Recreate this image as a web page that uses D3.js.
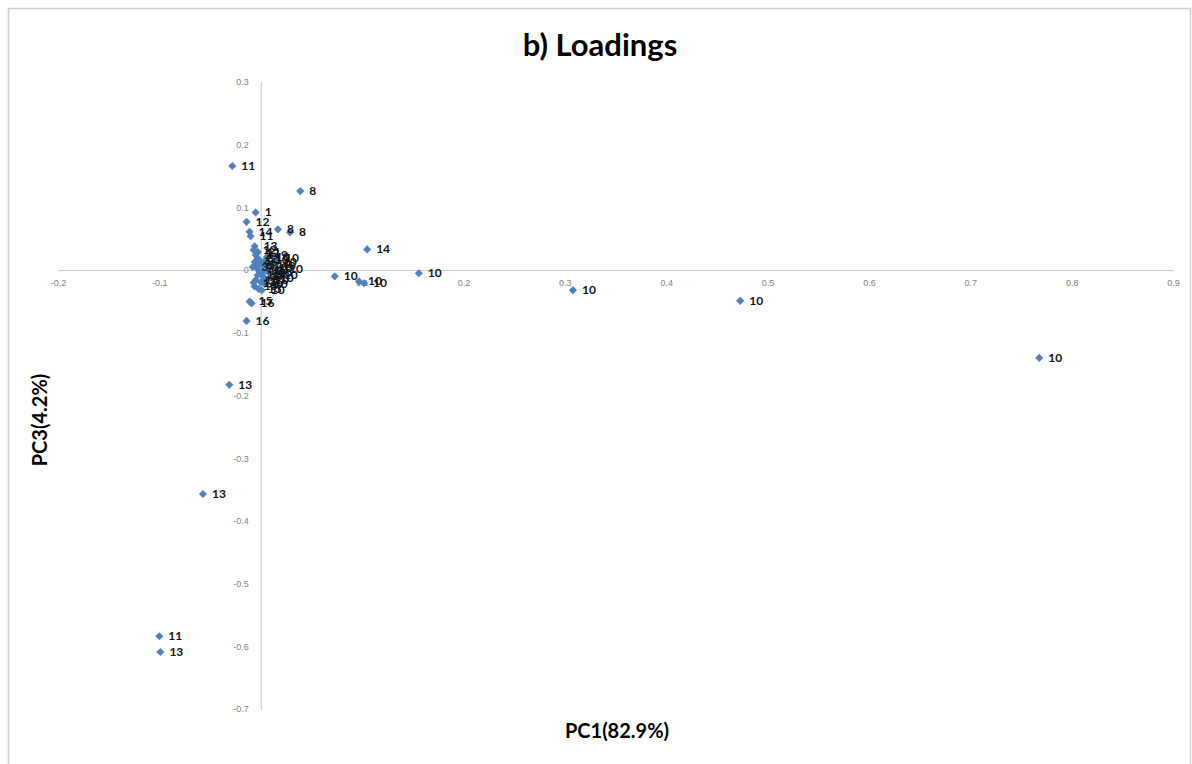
<!DOCTYPE html>
<html>
<head>
<meta charset="utf-8">
<script src="https://cdn.jsdelivr.net/npm/d3@7"></script>
<style>
  body { margin: 0; background: #fff; }
  svg { display: block; font-family: Lato, "Open Sans", sans-serif; }
</style>
</head>
<body>
<svg width="1192" height="764"></svg>
<script>
// loadings: PC1 (x), PC3 (y) and the variable number shown beside each point
var pc1 = [-0.028, 0.039, -0.005, -0.014, -0.011, -0.010, 0.017, 0.029, 0.105,
  0.073, 0.097, 0.102, 0.156, 0.308, 0.473, 0.768, -0.014, -0.009, -0.011,
  -0.031, -0.057, -0.100, -0.099,
  -0.006, -0.007, -0.005, -0.003, -0.006, -0.002, 0.001, 0.003, -0.004, -0.001,
  0.005, 0.007, 0.009, 0.004, -0.003, 0.002, -0.005, 0.000, -0.006, 0.004,
  -0.002, 0.001, 0.011, 0.013, 0.015, -0.003, 0.008, 0.012, 0.019,
  -0.008, -0.004, 0.006, 0.010, 0.002, -0.007, 0.005, 0.014];
var pc3 = [0.166, 0.126, 0.092, 0.077, 0.061, 0.054, 0.065, 0.060, 0.033,
  -0.010, -0.018, -0.021, -0.005, -0.032, -0.049, -0.140, -0.081, -0.053, -0.050,
  -0.183, -0.357, -0.584, -0.609,
  0.038, 0.032, 0.024, 0.019, 0.013, 0.008, 0.013, 0.006, 0.003, -0.002,
  0.016, 0.010, 0.003, 0.000, -0.008, -0.010, -0.016, -0.019, -0.026, -0.022,
  -0.030, -0.032, 0.024, 0.013, 0.019, 0.029, -0.004, 0.006, 0.002,
  0.005, 0.027, 0.021, -0.012, -0.005, -0.020, -0.015, -0.008];
var labels = ["11", "8", "1", "12", "14", "11", "8", "8", "14",
  "10", "10", "10", "10", "10", "10", "10", "16", "16", "15",
  "13", "13", "11", "13",
  "13", "12", "2", "3", "4", "5", "6", "7", "9", "10",
  "10", "10", "10", "10", "12", "14", "15", "16", "13", "10",
  "13", "10", "9", "10", "10", "11", "10", "10", "10",
  "3", "12", "10", "10", "10", "14", "10", "10"];

var xTicks = [-0.2, -0.1, 0, 0.1, 0.2, 0.3, 0.4, 0.5, 0.6, 0.7, 0.8, 0.9];
var yTicks = [0.3, 0.2, 0.1, 0, -0.1, -0.2, -0.3, -0.4, -0.5, -0.6, -0.7];

var svg = d3.select("svg");

var x = d3.scaleLinear().domain([-0.2, 0.9]).range([58, 1173]);
var y = d3.scaleLinear().domain([-0.7, 0.3]).range([709, 82]);

var fmt = function(d) { return String(Math.round(d * 10) / 10); };

// outer frame
svg.append("path")
    .attr("d", "M8.5,764V8.5H1190.5V764")
    .attr("fill", "none")
    .attr("stroke", "#d0d0d0")
    .attr("stroke-width", 1.5);

svg.append("text")
    .attr("x", 600)
    .attr("y", 56)
    .attr("text-anchor", "middle")
    .attr("font-size", 31)
    .attr("font-weight", "bold")
    .text("b) Loadings");

// x axis through y = 0
var gx = svg.append("g")
    .attr("transform", "translate(0," + y(0) + ")")
    .call(d3.axisBottom(x).tickValues(xTicks).tickFormat(fmt).tickSize(0).tickPadding(10));
gx.select(".domain").attr("stroke", "#c8c8c8");
gx.selectAll("text").attr("fill", "#7f7f7f").attr("font-size", 9);

// y axis through x = 0
var gy = svg.append("g")
    .attr("transform", "translate(" + x(0) + ",0)")
    .call(d3.axisLeft(y).tickValues(yTicks).tickFormat(fmt).tickSize(0).tickPadding(12));
gy.select(".domain").attr("stroke", "#c8c8c8");
gy.selectAll("text").attr("fill", "#7f7f7f").attr("font-size", 9);

var data = pc1.map(function(v, i) { return {x: v, y: pc3[i], label: labels[i]}; });

var pts = svg.append("g");

pts.selectAll("path")
    .data(data)
  .enter().append("path")
    .attr("transform", function(d) { return "translate(" + x(d.x) + "," + y(d.y) + ")"; })
    .attr("d", d3.symbol().type(d3.symbolDiamond2).size(42))
    .attr("fill", "#4f81bd");

pts.selectAll("text")
    .data(data)
  .enter().append("text")
    .attr("x", function(d) { return x(d.x) + 9; })
    .attr("y", function(d) { return y(d.y) + 4; })
    .attr("font-size", 12)
    .attr("font-weight", "bold")
    .attr("fill", "#111")
    .text(function(d) { return d.label; });

svg.append("text")
    .attr("x", 617)
    .attr("y", 738)
    .attr("text-anchor", "middle")
    .attr("font-size", 20)
    .attr("font-weight", "bold")
    .text("PC1(82.9%)");

svg.append("text")
    .attr("transform", "translate(47,420) rotate(-90)")
    .attr("text-anchor", "middle")
    .attr("font-size", 20)
    .attr("font-weight", "bold")
    .text("PC3(4.2%)");
</script>
</body>
</html>
